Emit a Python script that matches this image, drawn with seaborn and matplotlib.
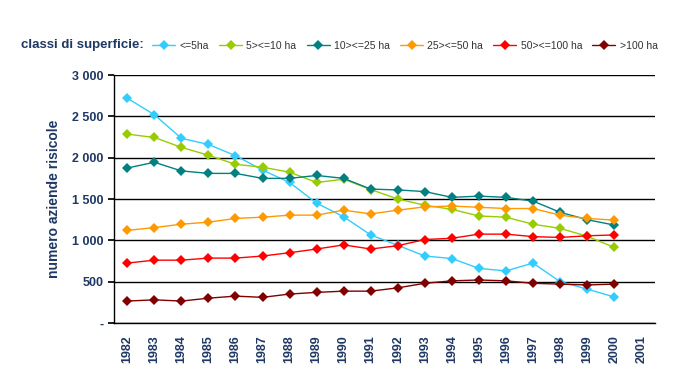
import pandas as pd
import numpy as np
import seaborn as sns
import matplotlib.pyplot as plt
from matplotlib.ticker import FuncFormatter, FixedLocator

# Values
anni = list(range(1982, 2001))
classi = ["<=5ha", "5><=10 ha", "10><=25 ha", "25><=50 ha", "50><=100 ha", ">100 ha"]

fino_5 = [2720, 2520, 2235, 2160, 2025, 1850, 1700, 1450, 1285, 1065, 940, 810, 780, 660, 630, 725, 500, 410, 315]
da_5_a_10 = [2285, 2245, 2125, 2030, 1920, 1885, 1825, 1700, 1740, 1615, 1500, 1425, 1375, 1295, 1280, 1195, 1145, 1050, 915]
da_10_a_25 = [1875, 1945, 1840, 1810, 1810, 1750, 1750, 1785, 1750, 1620, 1610, 1590, 1520, 1535, 1520, 1475, 1340, 1250, 1185]
da_25_a_50 = [1120, 1155, 1195, 1220, 1265, 1280, 1305, 1305, 1365, 1320, 1365, 1405, 1415, 1400, 1385, 1385, 1305, 1265, 1245]
da_50_a_100 = [725, 760, 760, 785, 785, 810, 850, 895, 945, 895, 935, 1010, 1025, 1075, 1075, 1045, 1035, 1055, 1065]
oltre_100 = [265, 280, 265, 300, 325, 310, 350, 370, 385, 385, 425, 480, 510, 520, 510, 480, 470, 460, 470]

serie = [fino_5, da_5_a_10, da_10_a_25, da_25_a_50, da_50_a_100, oltre_100]
colori = ["#33CCFF", "#99CC00", "#008080", "#FF9900", "#FF0000", "#800000"]

df = pd.DataFrame({
    "anno": anni * len(classi),
    "aziende": sum(serie, []),
    "classe": [c for c in classi for _ in anni],
})

sns.set_theme(style="white")
plt.rcParams["font.family"] = ["Liberation Sans", "DejaVu Sans"]
navy = "#1F3864"

fig = plt.figure(figsize=(6.98, 3.91), dpi=100)
ax = fig.add_axes([0.163, 0.174, 0.775, 0.634])

sns.lineplot(data=df, x="anno", y="aziende", hue="classe", hue_order=classi,
             palette=colori, marker="D", markersize=5, markeredgewidth=0,
             linewidth=1, ax=ax, legend=True)

ax.set_xlim(1981.5, 2001.5)
ax.set_ylim(0, 3000)
ax.set_yticks(np.arange(0, 3001, 500))
ax.yaxis.set_major_formatter(FuncFormatter(
    lambda v, p: "-" if v == 0 else f"{int(v):,}".replace(",", " ")))
ax.grid(axis="y", color="black", linewidth=1)
ax.set_axisbelow(True)

ax.set_xticks(range(1982, 2002))
ax.set_xticklabels([str(a) for a in range(1982, 2002)], rotation=90)
ax.xaxis.set_minor_locator(FixedLocator(np.arange(1981.5, 2002, 1)))
ax.tick_params(axis="x", which="major", length=0, pad=9)
ax.tick_params(axis="x", which="minor", length=4, color="black", direction="out")
ax.tick_params(axis="y", length=4, color="black", direction="out", left=True)
ax.tick_params(axis="both", labelsize=9, labelcolor=navy)
for lab in ax.get_xticklabels() + ax.get_yticklabels():
    lab.set_fontweight("bold")

for s in ["top", "right"]:
    ax.spines[s].set_visible(False)
for s in ["left", "bottom"]:
    ax.spines[s].set_color("black")
    ax.spines[s].set_linewidth(1)

ax.set_xlabel("")
ax.set_ylabel("numero aziende risicole", fontsize=10, fontweight="bold", color=navy, labelpad=8)

handles, labels = ax.get_legend_handles_labels()
ax.get_legend().remove()
fig.legend(handles, labels, loc="center left", bbox_to_anchor=(0.205, 0.882), ncol=6,
           frameon=False, fontsize=7.5, handlelength=2.2, columnspacing=1.0,
           handletextpad=0.4, labelcolor="#333333")
fig.text(0.03, 0.885, "classi di superficie:", fontsize=9.5, fontweight="bold",
         color=navy, va="center")

fig.savefig("out.png", dpi=100)
